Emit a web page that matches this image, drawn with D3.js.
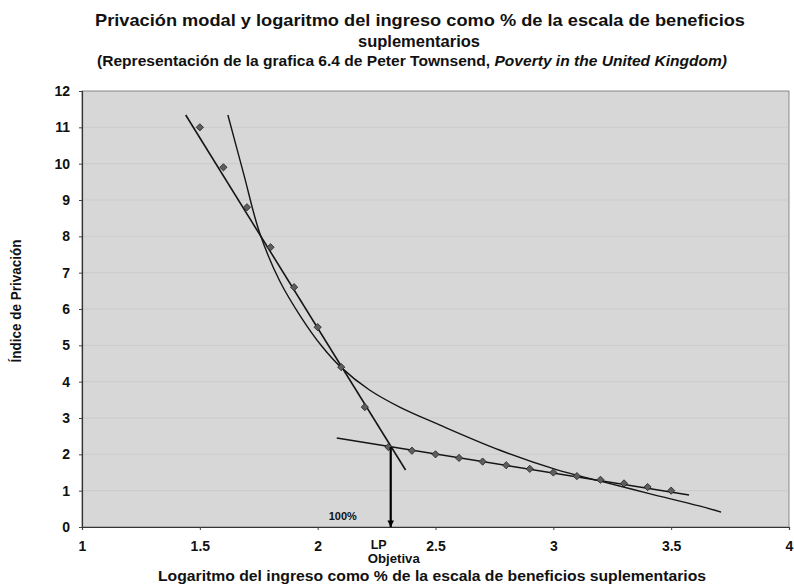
<!DOCTYPE html>
<html><head><meta charset="utf-8">
<script src="https://cdn.jsdelivr.net/npm/d3@7/dist/d3.min.js"></script>
<style>
html,body{margin:0;padding:0;background:#fff;}
svg text{font-family:"Liberation Sans Narrow","Arial Narrow","Liberation Sans",Arial,sans-serif;font-weight:bold;fill:#111;}
</style></head>
<body>
<svg id="chart" width="794" height="586"></svg>
<script>
// ---- data ----
const xTicks = [1, 1.5, 2, 2.5, 3, 3.5, 4];
const xTickLabels = ["1", "1.5", "2", "2.5", "3", "3.5", "4"];
const yTicks = [0,1,2,3,4,5,6,7,8,9,10,11,12];

// modal deprivation points (steep segment)
const steepX = [1.5, 1.6, 1.7, 1.8, 1.9, 2.0, 2.1, 2.2, 2.3];
const steepY = [11.0, 9.9, 8.8, 7.7, 6.6, 5.5, 4.4, 3.3, 2.2];
// points on the flat segment
const flatX = [2.4, 2.5, 2.6, 2.7, 2.8, 2.9, 3.0, 3.1, 3.2, 3.3, 3.4, 3.5];
const flatY = [2.1, 2.0, 1.9, 1.8, 1.7, 1.6, 1.5, 1.4, 1.3, 1.2, 1.1, 1.0];

// straight fitted line through the steep points
const lineAX = [1.44, 2.373];
const lineAY = [11.34, 1.57];
// straight fitted line through the flat points
const lineCX = [2.081, 3.576];
const lineCY = [2.45, 0.88];
// smooth curve
const curveX = [1.619, 1.686, 1.754, 1.839, 1.932, 2.017, 2.098, 2.220, 2.348, 2.517, 2.771, 3.013, 3.195, 3.407, 3.619, 3.712];
const curveY = [11.34, 9.72, 8.09, 6.77, 5.75, 4.98, 4.40, 3.77, 3.30, 2.81, 2.12, 1.58, 1.27, 0.92, 0.58, 0.41];

// objective poverty line
const lpX = 2.31;
const lpY = 2.2;

const titleLine1 = "Privación modal y logaritmo del ingreso como % de la escala de beneficios";
const titleLine2 = "suplementarios";
const subtitleA = "(Representación de la grafica 6.4 de Peter Townsend, ";
const subtitleB = "Poverty in the United Kingdom)";
const xTitle = "Logaritmo del ingreso como % de la escala de beneficios suplementarios";
const yTitle = "Índice de Privación";

// ---- layout ----
const svg = d3.select("#chart");
const W = 794, H = 586;
const m = {left: 82, right: 5, top: 91, bottom: 59};
const x = d3.scaleLinear().domain([1, 4]).range([m.left, W - m.right]);
const y = d3.scaleLinear().domain([0, 12]).range([H - m.bottom, m.top]);

// plot background
svg.append("rect")
  .attr("x", x(1)).attr("y", y(12))
  .attr("width", x(4) - x(1)).attr("height", y(0) - y(12))
  .attr("fill", "#d7d7d7")
  .attr("stroke", "#707070").attr("stroke-width", 0.8);

// faint grid
svg.append("g").selectAll("line").data(yTicks.filter(d => d > 0 && d < 12)).join("line")
  .attr("x1", x(1)).attr("x2", x(4))
  .attr("y1", d => y(d)).attr("y2", d => y(d))
  .attr("stroke", "#c4c4c4").attr("stroke-width", 0.6);

// axes
const xAxis = d3.axisBottom(x).tickValues(xTicks).tickFormat((d, i) => xTickLabels[i]).tickSize(3).tickPadding(11);
const gx = svg.append("g").attr("transform", `translate(0,${y(0)})`).call(xAxis);
gx.select(".domain").attr("stroke", "#333").attr("stroke-width", 1.2);
gx.selectAll(".tick line").attr("stroke", "#444");
gx.selectAll(".tick text").style("font-size", "14px").attr("fill", "#111");

const yAxis = d3.axisLeft(y).tickValues(yTicks).tickSize(3).tickPadding(9);
const gy = svg.append("g").attr("transform", `translate(${x(1)},0)`).call(yAxis);
gy.select(".domain").attr("stroke", "#333").attr("stroke-width", 1.2);
gy.selectAll(".tick line").attr("stroke", "#444");
gy.selectAll(".tick text").style("font-size", "14px").attr("fill", "#111");

// lines
const line = d3.line().x(d => x(d[0])).y(d => y(d[1]));
const g = svg.append("g");
g.append("path").datum(lineAX.map((v, i) => [v, lineAY[i]]))
  .attr("d", line).attr("fill", "none").attr("stroke", "#151515").attr("stroke-width", 1.6);
g.append("path").datum(lineCX.map((v, i) => [v, lineCY[i]]))
  .attr("d", line).attr("fill", "none").attr("stroke", "#151515").attr("stroke-width", 1.6);
g.append("path").datum(curveX.map((v, i) => [v, curveY[i]]))
  .attr("d", d3.line().x(d => x(d[0])).y(d => y(d[1])).curve(d3.curveCatmullRom.alpha(0.5)))
  .attr("fill", "none").attr("stroke", "#151515").attr("stroke-width", 1.4);

// markers (diamonds)
const pts = steepX.map((v, i) => [v, steepY[i]]).concat(flatX.map((v, i) => [v, flatY[i]]));
g.selectAll("path.pt").data(pts).join("path").attr("class", "pt")
  .attr("d", d3.symbol().type(d3.symbolSquare).size(26))
  .attr("transform", d => `translate(${x(d[0])},${y(d[1])}) rotate(45)`)
  .attr("fill", "#5e5e5e").attr("stroke", "#262626").attr("stroke-width", 0.8);

// arrow to LP
svg.append("defs").append("marker").attr("id", "arr")
  .attr("viewBox", "0 0 10 10").attr("refX", 10).attr("refY", 5)
  .attr("markerWidth", 4).attr("markerHeight", 3).attr("orient", "auto")
  .attr("markerUnits", "strokeWidth")
  .append("path").attr("d", "M0,0 L10,5 L0,10 z").attr("fill", "#000");
svg.append("line")
  .attr("x1", x(lpX)).attr("y1", y(lpY)).attr("x2", x(lpX)).attr("y2", y(0))
  .attr("stroke", "#000").attr("stroke-width", 2.2).attr("marker-end", "url(#arr)");

svg.append("text").attr("x", x(lpX) - 62).attr("y", y(0) - 7)
  .style("font-size", "11px").text("100%");
svg.append("text").attr("x", x(lpX) - 20).attr("y", 549)
  .style("font-size", "12.5px").text("LP");
svg.append("text").attr("x", x(lpX) + 3).attr("y", 563).attr("text-anchor", "middle")
  .style("font-size", "12.5px").attr("textLength", 52).attr("lengthAdjust", "spacingAndGlyphs").text("Objetiva");

// titles
svg.append("text").attr("x", 420).attr("y", 26).attr("text-anchor", "middle")
  .style("font-size", "17px").attr("textLength", 650).attr("lengthAdjust", "spacingAndGlyphs").text(titleLine1);
svg.append("text").attr("x", 419).attr("y", 47).attr("text-anchor", "middle")
  .style("font-size", "17px").attr("textLength", 122).attr("lengthAdjust", "spacingAndGlyphs").text(titleLine2);
const st = svg.append("text").attr("x", 412).attr("y", 66).attr("text-anchor", "middle")
  .style("font-size", "14.5px").attr("textLength", 630).attr("lengthAdjust", "spacingAndGlyphs");
st.append("tspan").text(subtitleA);
st.append("tspan").style("font-style", "italic").text(subtitleB);

svg.append("text").attr("x", 432).attr("y", 581).attr("text-anchor", "middle")
  .style("font-size", "15px").attr("textLength", 548).attr("lengthAdjust", "spacingAndGlyphs").text(xTitle);
svg.append("text").attr("transform", "translate(21,301) rotate(-90)").attr("text-anchor", "middle")
  .style("font-size", "14px").attr("textLength", 123).attr("lengthAdjust", "spacingAndGlyphs").text(yTitle);
</script>
</body></html>
